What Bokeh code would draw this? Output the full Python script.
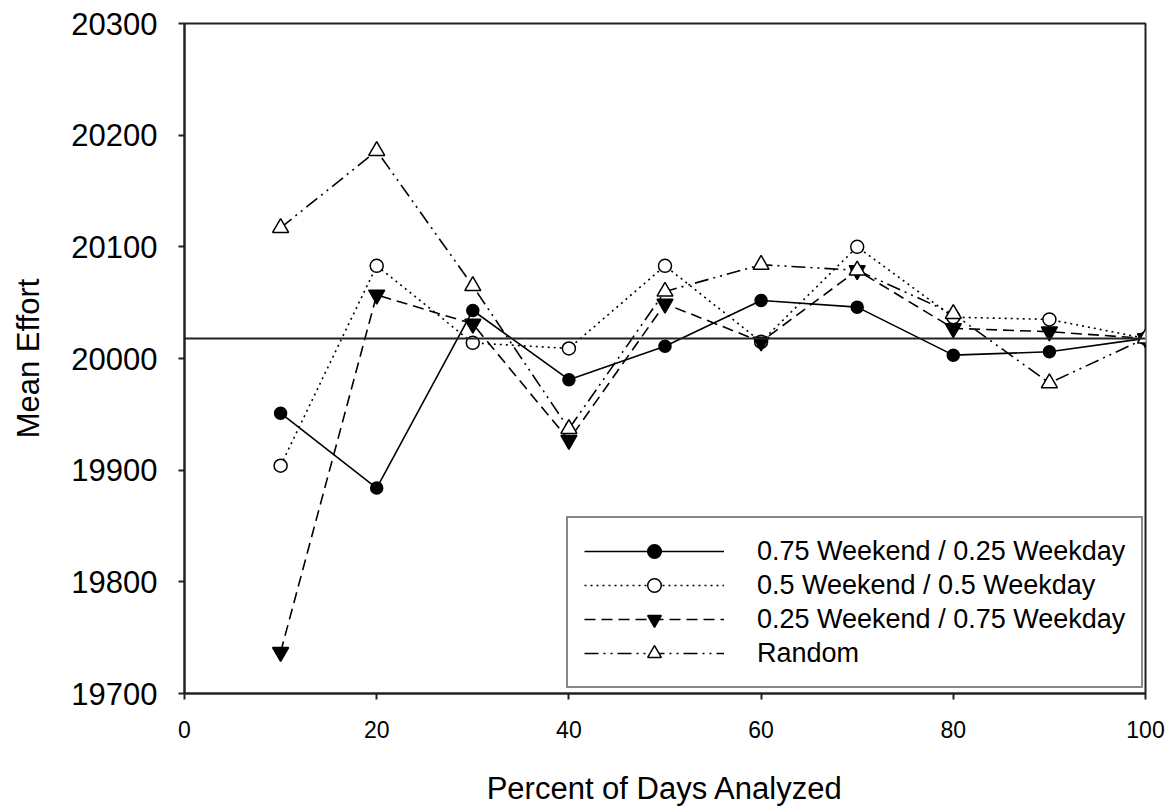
from bokeh.plotting import figure
from bokeh.models import Range1d, FixedTicker, Legend, LegendItem, Span
from bokeh.embed import file_html
from bokeh.resources import INLINE

pct = [10, 20, 30, 40, 50, 60, 70, 80, 90, 100]
we75 = [19951, 19884, 20043, 19981, 20011, 20052, 20046, 20003, 20006, 20018]
we50 = [19904, 20083, 20014, 20009, 20083, 20015, 20100, 20037, 20035, 20018]
we25 = [19737, 20057, 20031, 19927, 20049, 20015, 20079, 20027, 20024, 20018]
rand = [20117, 20186, 20065, 19937, 20060, 20084, 20079, 20040, 19978, 20018]
overall_mean = 20018
labels = ["0.75 Weekend / 0.25 Weekday", "0.5 Weekend / 0.5 Weekday",
          "0.25 Weekend / 0.75 Weekday", "Random"]
y_ticks = [19700, 19800, 19900, 20000, 20100, 20200, 20300]
x_ticks = [0, 20, 40, 60, 80, 100]

FONT = "Liberation Sans"

p = figure(width=1173, height=808, output_backend="svg", toolbar_location=None,
           x_range=Range1d(0, 100), y_range=Range1d(19700, 20300),
           min_border_left=184, min_border_right=28, min_border_top=23,
           min_border_bottom=114)
p.grid.visible = False
p.outline_line_color = "#222222"
p.outline_line_width = 2
p.background_fill_color = "white"
p.border_fill_color = "white"

for ax in (p.xaxis[0], p.yaxis[0]):
    ax.axis_line_width = 2
    ax.axis_line_color = "#222222"
    ax.major_tick_line_width = 2
    ax.major_tick_line_color = "#222222"
    ax.major_tick_out = 6
    ax.major_tick_in = 0
    ax.minor_tick_line_color = None
    ax.major_label_text_font = FONT
    ax.axis_label_text_font = FONT
    ax.axis_label_text_font_style = "normal"
    ax.major_label_text_color = "black"
    ax.axis_label_text_color = "black"

p.xaxis.ticker = FixedTicker(ticks=x_ticks)
p.yaxis.ticker = FixedTicker(ticks=y_ticks)
p.xaxis.major_label_text_font_size = "23px"
p.yaxis.major_label_text_font_size = "31px"
p.xaxis.major_label_standoff = 21
p.yaxis.major_label_standoff = 21
p.xaxis.axis_label = "Percent of Days Analyzed"
p.yaxis.axis_label = "Mean Effort"
p.xaxis.axis_label_text_font_size = "31px"
p.yaxis.axis_label_text_font_size = "31px"
p.xaxis.axis_label_standoff = 30
p.yaxis.axis_label_standoff = 22

p.add_layout(Span(location=overall_mean, dimension="width", line_color="#222222",
                  line_width=2))

series = [
    (we75, "solid", "circle", "black", 12),
    (we50, "2 4", "circle", "white", 13),
    (we25, "11 6", "inverted_triangle", "black", 16),
    (rand, "14 5 2 5 2 5", "triangle", "white", 16),
]
items = []
for (vals, dash, marker, fill, size), lab in zip(series, labels):
    ln = p.line(pct, vals, line_color="black", line_width=1.6, line_dash=dash)
    sc = p.scatter(pct, vals, marker=marker, size=size, fill_color=fill,
                   line_color="black", line_width=1.5)
    items.append(LegendItem(label=lab, renderers=[ln, sc]))

legend = Legend(items=items, location=(382, 5), orientation="vertical",
                glyph_width=140, glyph_height=34, label_height=34,
                label_standoff=33, padding=16, spacing=0, margin=0,
                label_text_font=FONT, label_text_font_size="27px",
                label_text_color="black",
                border_line_color="#111111", border_line_width=2,
                background_fill_color="white", background_fill_alpha=1)
p.add_layout(legend, "center")

open("out.html", "w").write(file_html(p, INLINE))
